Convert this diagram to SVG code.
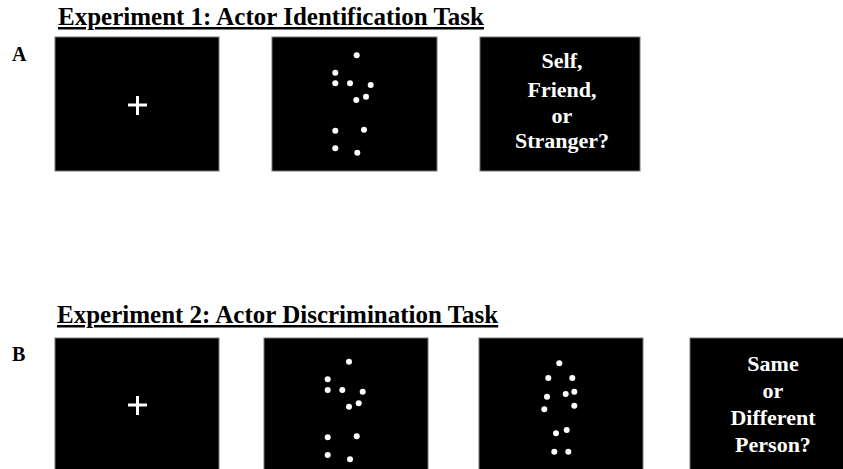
<svg xmlns="http://www.w3.org/2000/svg" width="843" height="469" viewBox="0 0 843 469">
<style>
.title{font-family:"Liberation Serif","Times New Roman",serif;font-weight:bold;font-size:25px;fill:#000;text-decoration:underline}
.lbl{font-family:"Liberation Serif","Times New Roman",serif;font-weight:bold;font-size:20px;fill:#000}
.scr{fill:#000;stroke:#777;stroke-width:1}
.q{font-family:"Liberation Serif","Times New Roman",serif;font-weight:bold;font-size:22px;fill:#fff;text-anchor:middle}
.dot{fill:#fff}
.cross{stroke:#fff;stroke-width:3}
</style>
<rect width="843" height="469" fill="#fff"/>
<text class="title" x="58" y="25">Experiment 1: Actor Identification Task</text>
<text class="lbl" x="12" y="61">A</text>
<g id="a1">
<rect class="scr" x="55" y="37" width="164" height="134"/>
<line class="cross" x1="128" y1="105" x2="147" y2="105"/>
<line class="cross" x1="137.5" y1="96" x2="137.5" y2="115"/>
</g>
<g id="a2">
<rect class="scr" x="272" y="37" width="165" height="134"/>
<circle class="dot" cx="356.7" cy="55.3" r="3"/>
<circle class="dot" cx="335.3" cy="72.7" r="3"/>
<circle class="dot" cx="335.3" cy="83.3" r="3"/>
<circle class="dot" cx="350" cy="83.3" r="3"/>
<circle class="dot" cx="370.7" cy="85" r="3"/>
<circle class="dot" cx="366" cy="96.7" r="3"/>
<circle class="dot" cx="356.3" cy="100" r="3"/>
<circle class="dot" cx="335.3" cy="130.7" r="3"/>
<circle class="dot" cx="364" cy="129.7" r="3"/>
<circle class="dot" cx="335.3" cy="148.3" r="3"/>
<circle class="dot" cx="357.3" cy="152.7" r="3"/>
</g>
<g id="a3">
<rect class="scr" x="480" y="37" width="160" height="134"/>
<text class="q" x="562" y="68">Self,</text>
<text class="q" x="562" y="96.5">Friend,</text>
<text class="q" x="562" y="123">or</text>
<text class="q" x="562" y="148">Stranger?</text>
</g>
<text class="title" x="57" y="323">Experiment 2: Actor Discrimination Task</text>
<text class="lbl" x="12" y="361">B</text>
<g id="b1">
<rect class="scr" x="55" y="338" width="164" height="135"/>
<line class="cross" x1="128" y1="405" x2="147" y2="405"/>
<line class="cross" x1="137.5" y1="396" x2="137.5" y2="415"/>
</g>
<g id="b2">
<rect class="scr" x="264" y="338" width="164" height="135"/>
<circle class="dot" cx="349" cy="361.7" r="3"/>
<circle class="dot" cx="327.7" cy="379.3" r="3"/>
<circle class="dot" cx="327.7" cy="390" r="3"/>
<circle class="dot" cx="342.3" cy="390" r="3"/>
<circle class="dot" cx="362.7" cy="391.7" r="3"/>
<circle class="dot" cx="358.7" cy="403.3" r="3"/>
<circle class="dot" cx="349" cy="406.7" r="3"/>
<circle class="dot" cx="327.7" cy="437.3" r="3"/>
<circle class="dot" cx="356.7" cy="436.3" r="3"/>
<circle class="dot" cx="327.7" cy="455" r="3"/>
<circle class="dot" cx="350" cy="459.3" r="3"/>
</g>
<g id="b3">
<rect class="scr" x="479" y="338" width="164" height="135"/>
<circle class="dot" cx="559.3" cy="363.3" r="3"/>
<circle class="dot" cx="548.3" cy="378" r="3"/>
<circle class="dot" cx="572.3" cy="378" r="3"/>
<circle class="dot" cx="574.3" cy="391.7" r="3"/>
<circle class="dot" cx="565.7" cy="394" r="3"/>
<circle class="dot" cx="547" cy="396.7" r="3"/>
<circle class="dot" cx="544.3" cy="409.3" r="3"/>
<circle class="dot" cx="574.3" cy="405.7" r="3"/>
<circle class="dot" cx="566.7" cy="430" r="3"/>
<circle class="dot" cx="556" cy="433.3" r="3"/>
<circle class="dot" cx="554.3" cy="451.7" r="3"/>
<circle class="dot" cx="568.3" cy="451.7" r="3"/>
</g>
<g id="b4">
<rect class="scr" x="690" y="338" width="160" height="135"/>
<text class="q" x="773" y="371">Same</text>
<text class="q" x="773" y="398">or</text>
<text class="q" x="773" y="425">Different</text>
<text class="q" x="773" y="452">Person?</text>
</g>
</svg>
